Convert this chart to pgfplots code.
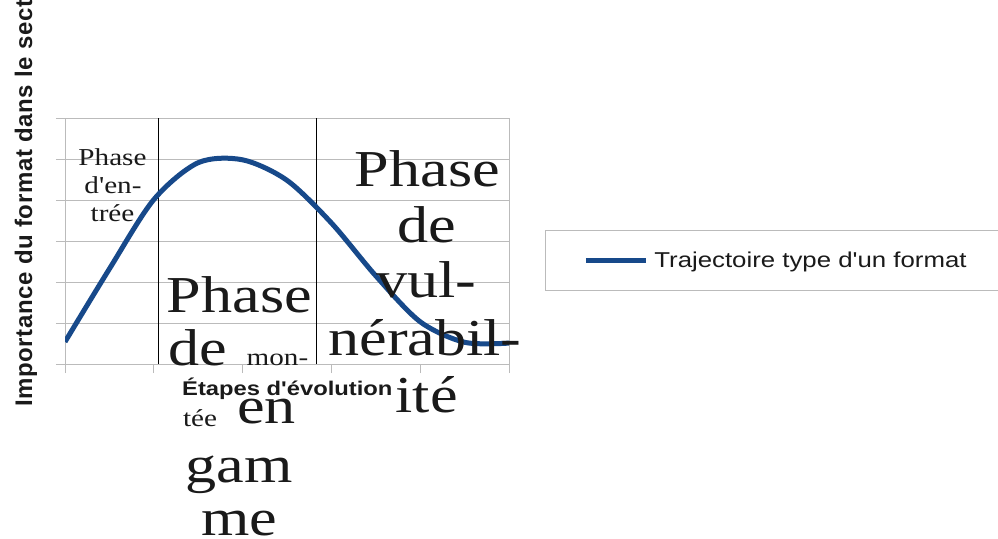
\documentclass[border=0pt]{standalone}
\usepackage{pgfplots}
\pgfplotsset{compat=1.18}
\usepackage{fontspec}
\setmainfont{Liberation Serif}
\newfontfamily\serifst[FakeStretch=1.2]{Liberation Serif}
\newfontfamily\sansst[FakeStretch=1.2]{Liberation Sans}
\newfontfamily\sansbst[FakeStretch=1.2]{Liberation Sans Bold}
\newfontfamily\sansb[LetterSpace=2.5]{Liberation Sans Bold}
\definecolor{curve}{HTML}{17498A}
\definecolor{gridc}{HTML}{BBBBBB}
\definecolor{txt}{HTML}{1A1A1A}
\newcommand{\smallser}{\serifst\fontsize{24.3bp}{28bp}\selectfont}
\newcommand{\bigser}{\serifst\fontsize{51.8bp}{57bp}\selectfont}
\begin{document}
\begin{tikzpicture}
\begin{axis}[
  at={(65bp,-364bp)}, anchor=south west,
  scale only axis, width=444bp, height=246bp,
  xmin=0, xmax=5, ymin=0, ymax=6,
  xtick={0,1,2,3,4,5}, ytick={0,1,2,3,4,5,6},
  xticklabels={}, yticklabels={},
  xtick pos=bottom, ytick pos=left,
  tick align=outside, major tick length=9bp,
  tick style={gridc, line width=0.8bp},
  ymajorgrids, grid style={gridc, line width=0.8bp},
  axis line style={gridc, line width=0.8bp},
  legend style={at={(1.081,0.545)}, anchor=north west, draw=gridc, line width=0.8bp,
    fill=white, inner xsep=36bp, inner ysep=19.5bp, font=\sansst\fontsize{21.5bp}{24bp}\selectfont, text=txt},
  legend cell align=left,
  legend image code/.code={\draw[#1] (2bp,0bp) -- (62bp,0bp); \path (0bp,0bp) (66bp,0bp);},
]
\addplot[black, line width=0.8bp, forget plot] coordinates {(1.047,0) (1.047,6)};
\addplot[black, line width=0.8bp, forget plot] coordinates {(2.827,0) (2.827,6)};
\addplot[curve, line width=5bp, smooth] coordinates {
(0,0.54) (0.5,2.32) (1.0,4.01) (1.5,4.91) (2.0,4.98) (2.5,4.48) (3.0,3.44) (3.5,2.15) (4.0,1.03) (4.5,0.53) (5,0.51)};
\addlegendentry{Trajectoire type d'un format\hspace{30bp}}
\end{axis}
% phase texts
\begin{scope}[every node/.style={text=txt, inner sep=0pt, anchor=base}]
\node[font=\smallser] at (112.5bp,-165bp) {Phase};
\node[font=\smallser] at (113bp,-193bp) {d'en-};
\node[font=\smallser] at (112.5bp,-221bp) {trée};
\node[font=\bigser] at (239.5bp,-312bp) {Phase};
\node[font=\bigser] at (198bp,-365bp) {de};
\node[font=\smallser] at (277.5bp,-365bp) {mon-};
\node[font=\smallser] at (200bp,-426bp) {tée};
\node[font=\bigser] at (266.5bp,-423bp) {en};
\node[font=\bigser] at (239bp,-482bp) {gam};
\node[font=\bigser] at (239bp,-535bp) {me};
\node[font=\bigser] at (427.5bp,-186bp) {Phase};
\node[font=\bigser] at (427bp,-242bp) {de};
\node[font=\bigser] at (426.5bp,-297bp) {vul-};
\node[font=\bigser] at (425bp,-355bp) {nérabil-};
\node[font=\bigser] at (426.5bp,-412bp) {ité};
\node[font=\sansbst\fontsize{19.8bp}{22bp}\selectfont, anchor=base west] at (182bp,-395bp) {Étapes d'évolution};
\node[font=\sansb\fontsize{24bp}{26bp}\selectfont, rotate=90, anchor=base west] at (32bp,-407bp) {Importance du format dans le secteur};
\end{scope}
\pgfresetboundingbox
\useasboundingbox (0bp,0bp) rectangle (998bp,-539bp);
\end{tikzpicture}
\end{document}
